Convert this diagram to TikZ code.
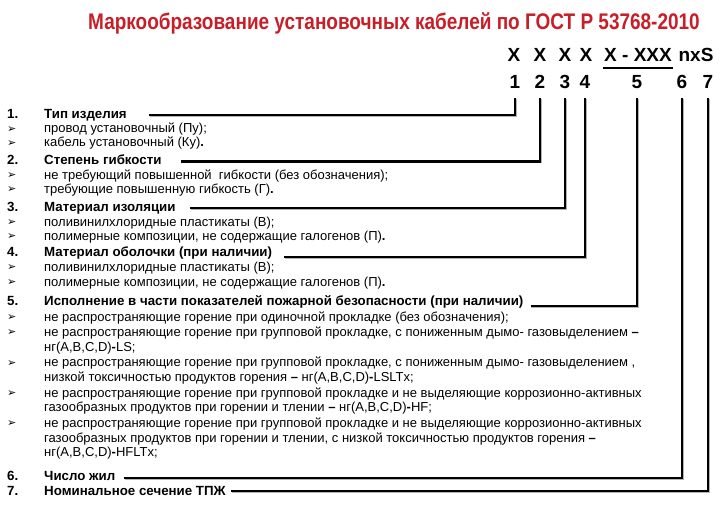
\documentclass[tikz,border=0pt]{standalone}
\usepackage{fontspec}
\setmainfont{Liberation Sans}
\newfontfamily\titlefont[FakeStretch=0.84]{Liberation Sans}
\newfontfamily\arrowfont{DejaVu Sans}
\usepackage{tikz}
\usetikzlibrary{calc}

\definecolor{titlered}{RGB}{200,30,40}

\tikzset{
  item/.style={anchor=west, inner sep=0pt, text height=9pt, text depth=2.5pt,
    font=\fontsize{13}{15}\selectfont},
  head/.style={item, font=\fontsize{13.3}{15}\selectfont\bfseries},
  bulletmark/.style={anchor=west, inner sep=0pt, font=\arrowfont\fontsize{11}{12}\selectfont},
  code/.style={inner sep=1pt, font=\fontsize{19}{22}\selectfont\bfseries},
  lead/.style={line width=2.2pt, line join=miter,
    preaction={draw=black!30, line width=2.2pt, transform canvas={shift={(0.9pt,-0.9pt)}}}}
}

\begin{document}
\begin{tikzpicture}[x=1pt, y=-1pt]
  \useasboundingbox (0,0) rectangle (720,518);

  % title
  \node[text=titlered, font=\titlefont\fontsize{22.6}{26}\selectfont\bfseries] (title) at (394,23)
    {Маркообразование установочных кабелей по ГОСТ Р 53768-2010};

  % code of the mark
  \node[code] (c1) at (514,55) {X};
  \node[code] (c2) at (540,55) {X};
  \node[code] (c3) at (565,55) {X};
  \node[code] (c4) at (586,55) {X};
  \node[code] (c5) at (638,55) {X - XXX};
  \node[code] (c6) at (696,55) {nxS};
  \draw[line width=1.6pt] ([yshift=-5pt]c5.south west) -- ([yshift=-5pt]c5.south east);

  \node[code] (d1) at (515,82) {1};
  \node[code] (d2) at (540,82) {2};
  \node[code] (d3) at (565,82) {3};
  \node[code] (d4) at (585,82) {4};
  \node[code] (d5) at (637,82) {5};
  \node[code] (d6) at (682,82) {6};
  \node[code] (d7) at (708,82) {7};

  % 1
  \node[head] (n1) at (7,115) {1.};
  \node[head] (h1) at (44,115) {Тип изделия};
  \node[bulletmark] (b11) at (7,129.5) {➢};
  \node[item] (t11) at (44,129.5) {провод установочный (Пу);};
  \node[bulletmark] (b12) at (7,143.5) {➢};
  \node[item] (t12) at (44,143.5) {кабель установочный (Ку)\textbf{.}};

  % 2
  \node[head] (n2) at (7,161.5) {2.};
  \node[head] (h2) at (44,161.5) {Степень гибкости};
  \node[bulletmark] (b21) at (7,176) {➢};
  \node[item] (t21) at (44,176) {не требующий повышенной \ гибкости (без обозначения);};
  \node[bulletmark] (b22) at (7,190) {➢};
  \node[item] (t22) at (44,190) {требующие повышенную гибкость (Г)\textbf{.}};

  % 3
  \node[head] (n3) at (7,208) {3.};
  \node[head] (h3) at (44,208) {Материал изоляции};
  \node[bulletmark] (b31) at (7,223) {➢};
  \node[item] (t31) at (44,223) {поливинилхлоридные пластикаты (В);};
  \node[bulletmark] (b32) at (7,237) {➢};
  \node[item] (t32) at (44,237) {полимерные композиции, не содержащие галогенов (П)\textbf{.}};

  % 4
  \node[head] (n4) at (7,253.5) {4.};
  \node[head] (h4) at (44,253.5) {Материал оболочки (при наличии)};
  \node[bulletmark] (b41) at (7,268) {➢};
  \node[item] (t41) at (44,268) {поливинилхлоридные пластикаты (В);};
  \node[bulletmark] (b42) at (7,283) {➢};
  \node[item] (t42) at (44,283) {полимерные композиции, не содержащие галогенов (П)\textbf{.}};

  % 5
  \node[head] (n5) at (7,302) {5.};
  \node[head] (h5) at (44,302) {Исполнение в части показателей пожарной безопасности (при наличии)};
  \node[bulletmark] (b51) at (7,318) {➢};
  \node[item] (t51) at (44,318) {не распространяющие горение при одиночной прокладке (без обозначения);};
  \node[bulletmark] (b52) at (7,333) {➢};
  \node[item] (t52) at (44,333) {не распространяющие горение при групповой прокладке, с пониженным дымо- газовыделением \textbf{–}};
  \node[item] (t52a) at (44,348) {нг(A,B,C,D)\textbf{-}LS;};
  \node[bulletmark] (b53) at (7,363.5) {➢};
  \node[item] (t53) at (44,363.5) {не распространяющие горение при групповой прокладке, с пониженным дымо- газовыделением ,};
  \node[item] (t53a) at (44,378.5) {низкой токсичностью продуктов горения \textbf{–} нг(A,B,C,D)\textbf{-}LSLTx;};
  \node[bulletmark] (b54) at (7,394) {➢};
  \node[item] (t54) at (44,394) {не распространяющие горение при групповой прокладке и не выделяющие коррозионно-активных};
  \node[item] (t54a) at (44,408.5) {газообразных продуктов при горении и тлении \textbf{–} нг(A,B,C,D)\textbf{-}HF;};
  \node[bulletmark] (b55) at (7,424) {➢};
  \node[item] (t55) at (44,424) {не распространяющие горение при групповой прокладке и не выделяющие коррозионно-активных};
  \node[item] (t55a) at (44,439) {газообразных продуктов при горении и тлении, с низкой токсичностью продуктов горения \textbf{–}};
  \node[item] (t55b) at (44,453.5) {нг(A,B,C,D)\textbf{-}HFLTx;};

  % 6, 7
  \node[head] (n6) at (7,477) {6.};
  \node[head] (h6) at (44,477) {Число жил};
  \node[head] (n7) at (7,492) {7.};
  \node[head] (h7) at (44,492) {Номинальное сечение ТПЖ};

  % leaders to the digits
  \draw[lead] ([xshift=22pt]h1.east) -| ([yshift=-8pt]d1.south);
  \draw[lead] ([xshift=19pt]h2.east) -| ([yshift=-8pt]d2.south);
  \draw[lead] ([xshift=14pt]h3.east) -| ([yshift=-8pt]d3.south);
  \draw[lead] ([xshift=12pt,yshift=-3.5pt]h4.east) -| ([yshift=-8pt]d4.south);
  \draw[lead] ([xshift=7pt,yshift=-4pt]h5.east) -| ([yshift=-8pt]d5.south);
  \draw[lead] ([xshift=9pt,yshift=-1pt]h6.east) -| ([yshift=-8pt]d6.south);
  \draw[lead] ([xshift=5pt,yshift=1pt]h7.east) -| ([yshift=-8pt]d7.south);
\end{tikzpicture}
\end{document}
